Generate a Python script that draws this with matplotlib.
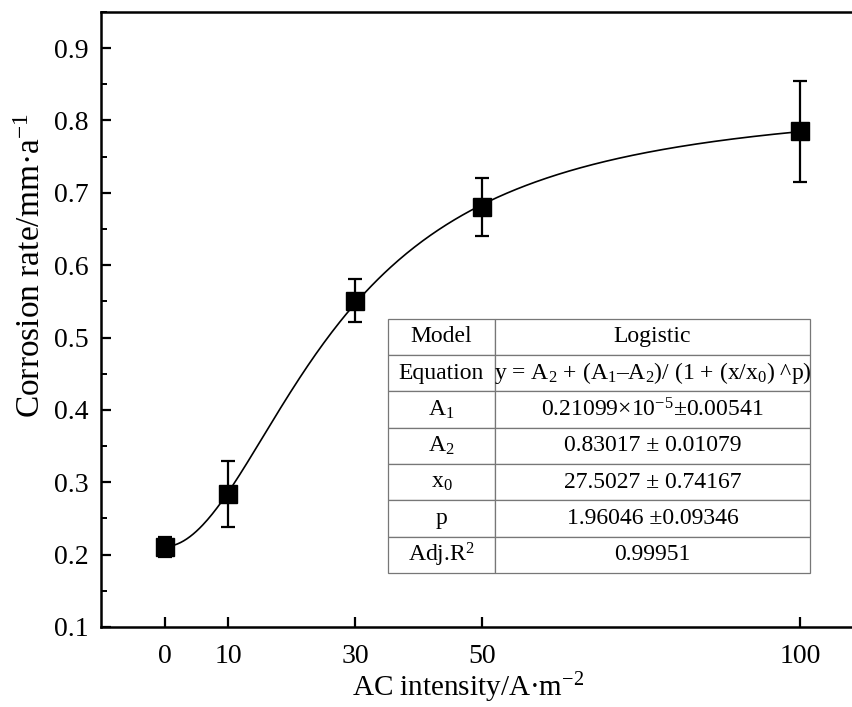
import numpy as np
import matplotlib
matplotlib.use("Agg")
import matplotlib.pyplot as plt
from matplotlib.ticker import MultipleLocator

plt.rcParams['font.family'] = ['Liberation Serif', 'DejaVu Serif']
plt.rcParams['mathtext.fontset'] = 'custom'
plt.rcParams['mathtext.rm'] = 'Liberation Serif'
plt.rcParams['mathtext.it'] = 'Liberation Serif:italic'

# =====================
# DATA
# =====================
ac_intensity = [0, 10, 30, 50, 100]
corr_rate = [0.211, 0.284, 0.551, 0.680, 0.785]
corr_err = [0.014, 0.046, 0.030, 0.040, 0.070]

# logistic fit parameters (from the table)
A1 = 0.21099
A2 = 0.83017
x0 = 27.5027
p = 1.96046

row_labels = ["Model", "Equation", r"$\mathrm{A_1}$", r"$\mathrm{A_2}$",
              r"$\mathrm{x_0}$", "p", r"Adj.$\mathrm{R^2}$"]
row_values = ["Logistic",
              r"y = $\mathrm{A_2}$ + ($\mathrm{A_1}$–$\mathrm{A_2}$)/ (1 + (x/$\mathrm{x_0}$) ^p)",
              r"0.21099×$\mathrm{10^{-5}}$±0.00541",
              "0.83017 ± 0.01079",
              "27.5027 ± 0.74167",
              "1.96046 ±0.09346",
              "0.99951"]

# =====================
# PLOT
# =====================
fig = plt.figure(figsize=(8.52, 7.07), dpi=100)
ax = fig.add_axes([0.1185, 0.1132, 0.895, 0.870])

xs = np.linspace(0, 100, 400)
fit = A2 + (A1 - A2) / (1 + (xs / x0) ** p)
ax.plot(xs, fit, color='k', lw=1.2, zorder=2)

ax.errorbar(ac_intensity, corr_rate, yerr=corr_err, fmt='s', color='k',
            markersize=12.5, elinewidth=1.6, capsize=4.8, capthick=1.6, zorder=3)

ax.set_xlim(-10, 110)
ax.set_ylim(0.1, 0.95)
ax.set_xticks(ac_intensity)
ax.yaxis.set_major_locator(MultipleLocator(0.1))
ax.yaxis.set_minor_locator(MultipleLocator(0.05))
ax.tick_params(axis='both', which='major', direction='in', length=7, width=1.6, labelsize=20)
ax.tick_params(axis='both', which='minor', direction='in', length=4, width=1.4)
ax.tick_params(axis='x', pad=12)
ax.tick_params(axis='y', pad=9)
for s in ax.spines.values():
    s.set_linewidth(1.8)
    s.set_clip_on(False)

ax.set_xlabel(r"AC intensity/A·$\mathrm{m^{-2}}$", fontsize=21)
ax.set_ylabel(r"Corrosion rate/mm·$\mathrm{a^{-1}}$", fontsize=24)
ax.xaxis.set_label_coords(0.481, -0.071)
ax.yaxis.set_label_coords(-0.071, 0.587)

cells = [[a, b] for a, b in zip(row_labels, row_values)]
tbl = ax.table(cellText=cells, cellLoc='center', colWidths=[0.254, 0.746],
               bbox=[0.376, 0.0876, 0.554, 0.4135])
tbl.auto_set_font_size(False)
tbl.set_fontsize(17)
for cell in tbl.get_celld().values():
    cell.set_edgecolor('#777777')
    cell.set_linewidth(0.9)
    cell.set_facecolor('white')
    cell.set_zorder(4)

plt.savefig("out.png", dpi=100)
